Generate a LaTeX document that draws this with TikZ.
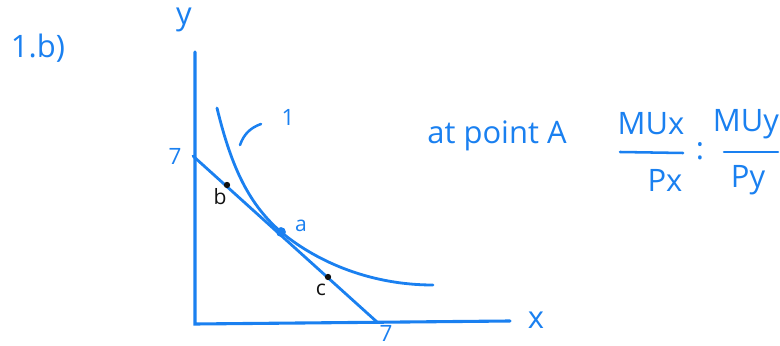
\documentclass[tikz,border=0pt]{standalone}
\usepackage{fontspec}
\setmainfont{Open Sans}
\usepackage{tikz}
\usetikzlibrary{arrows.meta, positioning, calc}
\definecolor{penblue}{HTML}{1A80F0}
\definecolor{penink}{HTML}{111111}
\tikzset{
  axis/.style={draw=penblue, line width=2.2pt, line cap=round},
  budget/.style={draw=penblue, line width=2pt, line cap=round},
  indiff/.style={draw=penblue, line width=2pt, line cap=round},
  bigtxt/.style={text=penblue, font=\fontsize{22}{26}\selectfont, inner sep=0pt},
  tick/.style={text=penblue, font=\fontsize{16}{19}\selectfont, inner sep=0pt},
  ptlbl/.style={text=penink, font=\fontsize{15}{18}\selectfont, inner sep=0pt},
  dot/.style={circle, fill=penink, inner sep=0pt, minimum size=4.5pt},
  bar/.style={draw=penblue, line width=1.8pt, line cap=round}
}

\begin{document}
\begin{tikzpicture}[x=0.025cm, y=-0.025cm]
\useasboundingbox (0,0) rectangle (780,346);
% axes
\coordinate (ytop) at (195,52);
\coordinate (origin) at (195,324);
\coordinate (xend) at (510,321);
\draw[axis] (ytop) -- (origin) -- (xend);
\node[bigtxt] (ylbl) at (184,20) {y};
\node[bigtxt] (xlbl) at (536,320) {x};
\node[bigtxt] (part) at (38,48) {1.b)};
% budget line
\coordinate (bya) at (193,156);
\coordinate (bxa) at (377,322);
\draw[budget] (bya) -- (bxa);
\node[tick] (ysev) at (175,156) {7};
\node[tick] (xsev) at (386,333) {7};
% indifference curve
\coordinate (ictop) at (217,108);
\coordinate (icend) at (433,285);
\node[circle, fill=penblue, inner sep=0pt, minimum size=7pt] (pa) at (281,232) {};
\draw[indiff] (ictop) .. controls (232,170) and (250,205) .. (pa.center)
  .. controls (312,258) and (365,285) .. (icend);
\node[text=penblue, font=\fontsize{15}{18}\selectfont, inner sep=0pt] (albl) at (301,226) {a};
% points b and c
\node[dot] (pb) at (227,185) {};
\node[dot] (pc) at (328,277) {};
\node[ptlbl] (blbl) at (220,197) {b};
\node[ptlbl] (clbl) at (321,290) {c};
% label of the curve
\coordinate (arcs) at (240,145);
\coordinate (arce) at (261,124);
\draw[indiff, line width=1.8pt] (arcs) to[bend left=25] (arce);
\node[tick] (iclbl) at (288,117) {1};
% condition
\node[bigtxt] (cond) at (497,136) {at point A};
\node[bigtxt] (mux) at (651,124) {MUx};
\node[bigtxt] (px) at (665,180) {Px};
\coordinate (barxl) at (620,152);
\coordinate (barxr) at (683,153);
\draw[bar] (barxl) -- (barxr);
\node[bigtxt] (eq) at (700,151) {:};
\node[bigtxt] (muy) at (746,124) {MUy};
\node[bigtxt] (py) at (748,180) {Py};
\coordinate (baryl) at (724,152);
\coordinate (baryr) at (778,152);
\draw[bar] (baryl) -- (baryr);
\end{tikzpicture}
\end{document}
